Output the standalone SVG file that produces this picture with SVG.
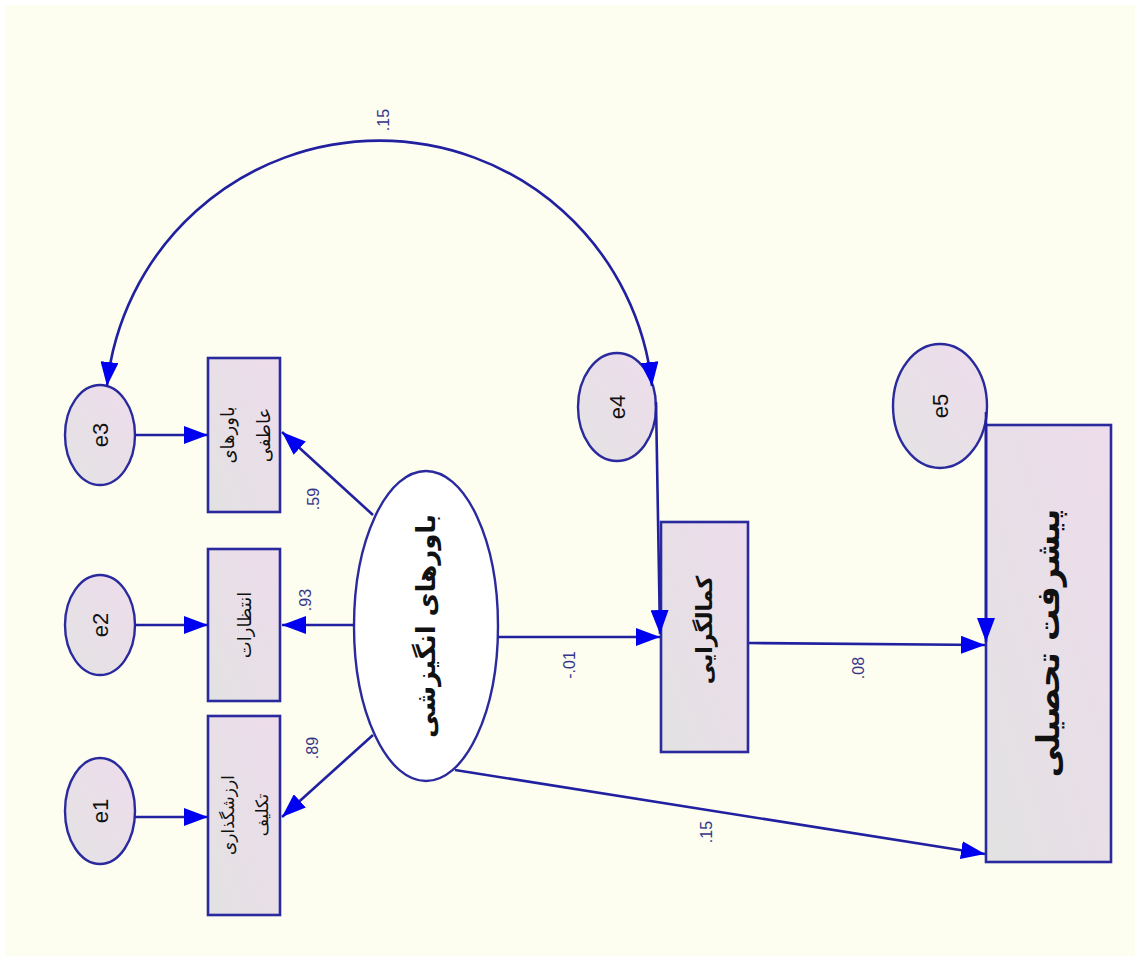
<svg xmlns="http://www.w3.org/2000/svg" width="1135" height="956" viewBox="0 0 1135 956">
<defs>
<linearGradient id="gbox" x1="1" y1="0" x2="0" y2="1">
<stop offset="0" stop-color="#EEDCEC"/>
<stop offset="1" stop-color="#E2E2E2"/>
</linearGradient>
<linearGradient id="gcirc" x1="1" y1="0" x2="0" y2="1">
<stop offset="0" stop-color="#EEDCEC"/>
<stop offset="1" stop-color="#E3E3E3"/>
</linearGradient>
<marker id="ah" viewBox="0 0 24 18" refX="24" refY="9" markerWidth="24" markerHeight="18" markerUnits="userSpaceOnUse" orient="auto-start-reverse">
<path d="M0,0 L24,9 L0,18 z" fill="#0000F0"/>
</marker>
<style>
.box{fill:url(#gbox);stroke:#2A2A9E;stroke-width:2.6}
.err{fill:url(#gcirc);stroke:#2A2A9E;stroke-width:2.4}
.lat{fill:#FFFFFF;stroke:#2A2A9E;stroke-width:2.4}
.con{fill:none;stroke:#2020A0;stroke-width:2.6;marker-end:url(#ah)}
.etxt{font-family:"Liberation Sans",Arial,sans-serif;font-size:22px;fill:#111111;text-anchor:middle;dominant-baseline:central}
.fa{font-family:"DejaVu Sans","Noto Sans",sans-serif;fill:#111111;text-anchor:middle;dominant-baseline:central}
.num{font-family:"Liberation Sans",Arial,sans-serif;font-size:16px;fill:#35358A;text-anchor:middle;dominant-baseline:central}
</style>
</defs>
<rect x="0" y="0" width="1135" height="956" fill="#FFFFFF"/>
<rect x="5" y="5" width="1130" height="951" fill="#FDFEF0"/>

<g id="e3">
<ellipse class="err" cx="100" cy="435" rx="35" ry="50"/>
<text class="etxt" transform="translate(100,435) rotate(-90)">e3</text>
</g>
<g id="e2">
<ellipse class="err" cx="100" cy="625" rx="35" ry="50"/>
<text class="etxt" transform="translate(100,625) rotate(-90)">e2</text>
</g>
<g id="e1">
<ellipse class="err" cx="100" cy="811" rx="35" ry="53"/>
<text class="etxt" transform="translate(100,811) rotate(-90)">e1</text>
</g>
<g id="e4">
<ellipse class="err" cx="617" cy="407" rx="39" ry="54"/>
<text class="etxt" transform="translate(617,407) rotate(-90)">e4</text>
</g>
<g id="e5">
<ellipse class="err" cx="940" cy="406" rx="47" ry="62"/>
<text class="etxt" transform="translate(940,406) rotate(-90)">e5</text>
</g>

<g id="affective-beliefs">
<rect class="box" x="208" y="358" width="72" height="154"/>
<text class="fa" font-size="18" transform="translate(227,435) rotate(-90)">باورهای</text>
<text class="fa" font-size="18" transform="translate(263,435) rotate(-90)">عاطفی</text>
</g>
<g id="expectations">
<rect class="box" x="208" y="549" width="72" height="152"/>
<text class="fa" font-size="18" transform="translate(244,625) rotate(-90)">انتظارات</text>
</g>
<g id="task-value">
<rect class="box" x="208" y="716" width="72" height="199"/>
<text class="fa" font-size="17" transform="translate(228,815) rotate(-90)">ارزشگذاری</text>
<text class="fa" font-size="17" transform="translate(262,815) rotate(-90)">تکلیف</text>
</g>
<g id="motivational-beliefs">
<ellipse class="lat" cx="426" cy="626" rx="72" ry="155"/>
<text class="fa" font-size="26" font-weight="bold" transform="translate(426,626) rotate(-90)">باورهای انگیزشی</text>
</g>
<g id="perfectionism">
<rect class="box" x="661" y="522" width="87" height="230"/>
<text class="fa" font-size="22" font-weight="bold" transform="translate(704,630) rotate(-90)">کمالگرایی</text>
</g>
<g id="achievement">
<rect class="box" x="986" y="425" width="125" height="437"/>
<text class="fa" font-size="32" font-weight="bold" transform="translate(1048,643) rotate(-90)">پیشرفت تحصیلی</text>
</g>

<g id="connectors">
<path class="con" d="M 107 386 A 274 274 0 0 1 652 386" marker-start="url(#ah)"/>
<line class="con" x1="135" y1="435" x2="208" y2="435"/>
<line class="con" x1="135" y1="625" x2="208" y2="625"/>
<line class="con" x1="135" y1="817" x2="208" y2="817"/>
<line class="con" x1="373" y1="515" x2="282" y2="432"/>
<line class="con" x1="355" y1="625" x2="282" y2="625"/>
<line class="con" x1="373" y1="735" x2="282" y2="817"/>
<line class="con" x1="498" y1="637" x2="660" y2="637"/>
<line class="con" x1="656" y1="402" x2="660" y2="634"/>
<line class="con" x1="749" y1="643" x2="985" y2="645"/>
<line class="con" x1="986" y1="412" x2="986" y2="642"/>
<line class="con" x1="455" y1="770" x2="985" y2="854"/>
</g>

<g id="labels">
<text class="num" transform="translate(383,120) rotate(-90)">.15</text>
<text class="num" transform="translate(313,499) rotate(-90)">.59</text>
<text class="num" transform="translate(305,600) rotate(-90)">.93</text>
<text class="num" transform="translate(312,748) rotate(-90)">.89</text>
<text class="num" transform="translate(569,665) rotate(-90)">-.01</text>
<text class="num" transform="translate(858,668) rotate(-90)">.08</text>
<text class="num" transform="translate(706,832) rotate(-90)">.15</text>
</g>
</svg>
